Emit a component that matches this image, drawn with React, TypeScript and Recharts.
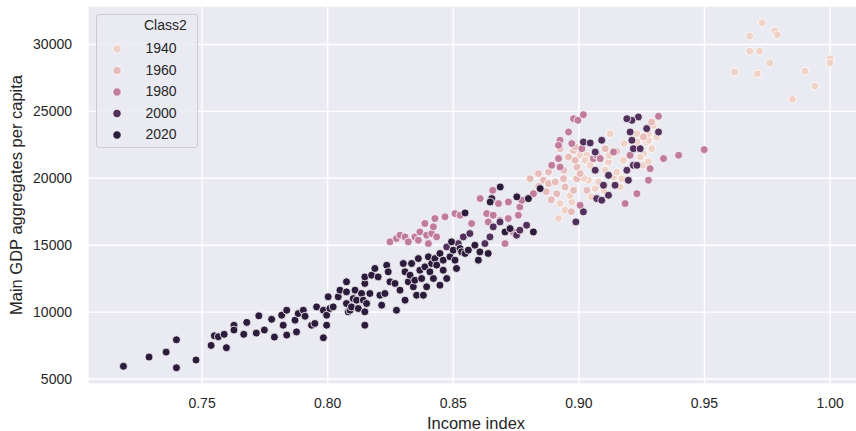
import React from 'react';
import { ScatterChart, Scatter, XAxis, YAxis, CartesianGrid, Legend, Label } from 'recharts';

type Pt = [number, number];

const xTicks = [0.75, 0.8, 0.85, 0.9, 0.95, 1.0];
const yTicks = [5000, 10000, 15000, 20000, 25000, 30000];
const classLabels = ['1940', '1960', '1980', '2000', '2020'];
const classColors = ['#efd3c8', '#e6bcba', '#bf7d9b', '#52305c', '#2d1b3c'];

const s1940: Pt[] = [
  [0.973, 31620], [0.968, 30620], [0.978, 31000], [0.979, 30720], [0.968, 29500], [0.972, 29500],
  [0.976, 28610], [0.962, 27940], [0.971, 27810], [0.990, 28010], [0.994, 26890], [0.985, 25900],
  [1.0, 28930], [1.0, 28610],
  [0.8925, 18110], [0.8945, 17610], [0.8919, 16990], [0.8972, 18230],
  [0.9005, 21720], [0.9032, 21720], [0.9025, 21340], [0.9058, 21340], [0.9038, 19850], [0.9065, 19230],
  [0.9045, 20970], [0.9105, 20600], [0.9138, 20100], [0.9118, 21220], [0.9125, 23330], [0.9078, 19730],
  [0.9164, 19350], [0.9171, 19970], [0.9257, 20970], [0.9277, 21220], [0.9151, 20470], [0.9178, 21340],
  [0.9231, 22710], [0.9257, 21840], [0.9244, 21590], [0.927, 22710], [0.929, 22210], [0.9297, 23960],
  [0.931, 23090], [0.9277, 22840], [0.9231, 23330], [0.9277, 23330],
  [0.8965, 18700], [0.9050, 18600], [0.9100, 19100], [0.9020, 20000], [0.9120, 21700], [0.9180, 22600],
];

const s1960: Pt[] = [
  [0.8806, 19970], [0.8839, 20350], [0.8879, 20470], [0.8959, 21590], [0.8925, 22210], [0.8859, 19850],
  [0.8879, 19600], [0.8906, 19730], [0.8939, 19970], [0.8945, 19350], [0.8912, 18850], [0.8979, 19100],
  [0.8992, 19970], [0.8992, 20840], [0.8985, 21340], [0.8979, 22090], [0.8985, 22340],
  [0.9005, 20350], [0.9032, 19100], [0.9105, 22210], [0.9257, 23090], [0.929, 24200],
  [0.8870, 19000], [0.8890, 18400], [0.8940, 20600], [0.8840, 19400], [0.8970, 17500], [0.9150, 22000],
];

const s1980: Pt[] = [
  [0.8248, 15250], [0.8274, 15500], [0.8288, 15750], [0.8308, 15620], [0.8321, 15250], [0.8347, 15620],
  [0.8361, 15370], [0.8367, 15990], [0.8387, 16620], [0.8394, 15750], [0.8401, 15120], [0.8414, 15870],
  [0.8421, 16370], [0.8427, 16990], [0.8434, 15620], [0.8467, 17120], [0.8507, 17360], [0.8527, 17240],
  [0.8573, 16620], [0.8633, 17360], [0.8639, 16740], [0.8659, 17240], [0.8686, 16870], [0.8719, 16990],
  [0.8706, 15120], [0.8739, 15990], [0.8759, 17240], [0.8765, 17860],
  [0.8607, 18480], [0.8657, 19100], [0.868, 18110], [0.872, 18230], [0.8773, 18360], [0.8819, 18850],
  [0.8892, 20970], [0.8925, 20840], [0.8919, 21470], [0.8925, 22840], [0.8959, 23460], [0.8979, 24450],
  [0.8996, 24330], [0.9018, 24750], [0.8919, 22460], [0.8972, 22590], [0.9012, 22210], [0.9058, 21470],
  [0.9071, 21720], [0.9085, 21470], [0.9005, 17980], [0.9138, 21960], [0.9184, 18110], [0.9231, 18850],
  [0.9284, 20720], [0.9277, 19850], [0.9204, 21720], [0.9317, 24630], [0.9337, 21470], [0.9397, 21720],
  [0.9499, 22140],
];

const s2000: Pt[] = [
  [0.9018, 22710], [0.9045, 22640], [0.9065, 21960], [0.9091, 22840], [0.9065, 20600], [0.9071, 18480],
  [0.9091, 18360], [0.9118, 18730], [0.9018, 17490], [0.8988, 16740], [0.9118, 20220], [0.9098, 19480],
  [0.9144, 19480], [0.9191, 20600], [0.9217, 20970], [0.9231, 20970], [0.9197, 19850], [0.9217, 22210],
  [0.9211, 22840], [0.9244, 22210], [0.927, 23710], [0.9317, 23460], [0.9237, 24580], [0.9211, 24330],
  [0.9191, 24450], [0.9204, 23460],
  [0.8474, 14870], [0.852, 15120], [0.854, 15620], [0.8566, 15870], [0.8626, 15120], [0.8646, 15620],
  [0.8659, 16370], [0.8686, 16740], [0.8752, 15750], [0.8792, 16490], [0.8765, 16120],
];

const s2020: Pt[] = [
  [0.7187, 5950], [0.7289, 6640], [0.7357, 7010], [0.7398, 7930], [0.7398, 5840], [0.7476, 6420],
  [0.7536, 7510], [0.7549, 8230], [0.7565, 8160], [0.7588, 8340], [0.7597, 7340], [0.7627, 9010],
  [0.7627, 8660], [0.7666, 8340], [0.7678, 9230], [0.7716, 8430], [0.7726, 9720], [0.7748, 8660],
  [0.7777, 9460], [0.7788, 8130],
  [0.7817, 9770], [0.7823, 9020], [0.7837, 10140], [0.7837, 8280], [0.787, 9400], [0.7876, 8520],
  [0.7883, 9890], [0.7903, 10140], [0.791, 9690], [0.7936, 9020], [0.7949, 9150], [0.7956, 10390],
  [0.7983, 10140], [0.7983, 8080], [0.7996, 9020], [0.7996, 9770], [0.8002, 11140], [0.8009, 10270],
  [0.8022, 10390], [0.8042, 11140], [0.8049, 11640], [0.8075, 12260], [0.8075, 11510], [0.8075, 10640],
  [0.8082, 10020], [0.8089, 10140], [0.8095, 10390], [0.8102, 11010], [0.8109, 11640], [0.8115, 10890],
  [0.8122, 10270], [0.8135, 11390], [0.8142, 10890], [0.8148, 10020], [0.8148, 9020], [0.8155, 10640],
  [0.8168, 11390], [0.8148, 12140], [0.8148, 12630], [0.8175, 12760], [0.8188, 13260], [0.8201, 12630],
  [0.8208, 11260], [0.8215, 10520], [0.8228, 11390], [0.8235, 13500], [0.8241, 13010], [0.8248, 12260],
  [0.8268, 12140], [0.8274, 10140], [0.8288, 11640], [0.8301, 13630], [0.8308, 10890], [0.8308, 13010],
  [0.8321, 12260], [0.8328, 12760], [0.8334, 13630], [0.8341, 11890], [0.8347, 12380], [0.8354, 11260],
  [0.8361, 14000], [0.8367, 13130], [0.8374, 12510], [0.8381, 11260], [0.8387, 13380], [0.8394, 11890],
  [0.8401, 14130], [0.8407, 13010], [0.8414, 13630], [0.8421, 12510], [0.8427, 14000], [0.8434, 13510],
  [0.8447, 14380], [0.8447, 12010], [0.846, 13130], [0.846, 13880], [0.8474, 12510], [0.8487, 14130],
  [0.8493, 15250], [0.85, 14630], [0.8507, 13880], [0.8513, 13260], [0.8527, 14750], [0.8533, 14500],
  [0.8547, 14380], [0.856, 14630], [0.8586, 15000], [0.86, 13880], [0.8606, 14500], [0.8639, 14380],
  [0.8706, 15990], [0.8726, 16240], [0.8819, 15990], [0.8547, 17410],
  [0.8687, 19350], [0.8653, 18480], [0.8647, 18230], [0.8753, 18610], [0.8799, 18480], [0.8846, 19230],
];

const seriesPoints: Pt[][] = [s1940, s1960, s1980, s2000, s2020];

const FONT = '"Liberation Sans", Arial, Helvetica, sans-serif';
const TEXT = '#262626';

const toRows = (pts: Pt[]) => pts.map(([x, y]) => ({ x, y }));

const makeDot = (color: string) => (props: any) => {
  if (props.cx == null || props.cy == null) return <g />;
  return <circle cx={props.cx} cy={props.cy} r={4} fill={color} stroke="#ffffff" strokeWidth={0.8} />;
};

const LegendBox = () => (
  <div
    style={{
      width: 102,
      height: 134,
      boxSizing: 'border-box',
      border: '1px solid #cccccc',
      borderRadius: 3,
      background: 'rgba(234,234,242,0.8)',
    }}
  >
    <svg width={100} height={132} style={{ display: 'block' }}>
      <text x={47} y={15} fontSize={14} fill={TEXT} fontFamily={FONT}>Class2</text>
      {classLabels.map((lab, i) => (
        <g key={lab}>
          <circle cx={20} cy={34 + i * 21.5} r={4.2} fill={classColors[i]} stroke="#ffffff" strokeWidth={0.8} />
          <text x={48.5} y={38 + i * 21.5} fontSize={14} fill={TEXT} fontFamily={FONT}>{lab}</text>
        </g>
      ))}
    </svg>
  </div>
);

export default function App() {
  return (
    <div
      style={{
        position: 'absolute',
        left: 0,
        top: 0,
        width: 856,
        height: 431,
        overflow: 'hidden',
        background: '#ffffff',
        fontFamily: FONT,
      }}
    >
      <ScatterChart width={864} height={431} margin={{ top: 6, right: 0, bottom: 0, left: 0 }}>
        <CartesianGrid fill="#eaeaf2" fillOpacity={1} stroke="#ffffff" strokeWidth={1.4} />
        <XAxis
          type="number"
          dataKey="x"
          domain={[0.7046, 1.0135]}
          ticks={xTicks}
          interval={0}
          allowDataOverflow
          tickFormatter={(v: number) => v.toFixed(2)}
          height={47}
          axisLine={false}
          tickLine={false}
          tickSize={0}
          tickMargin={14}
          tick={{ fontSize: 14, fill: TEXT, fontFamily: FONT }}
        >
          <Label
            content={(p: any) => {
              const vb = p.viewBox || { x: 88, width: 776 };
              return (
                <text x={vb.x + vb.width / 2} y={429} textAnchor="middle" fontSize={16.5} fill={TEXT} fontFamily={FONT}>
                  Income index
                </text>
              );
            }}
          />
        </XAxis>
        <YAxis
          type="number"
          dataKey="y"
          domain={[4627, 32873]}
          ticks={yTicks}
          interval={0}
          allowDataOverflow
          width={88}
          axisLine={false}
          tickLine={false}
          tickSize={0}
          tickMargin={16}
          tick={{ fontSize: 14, fill: TEXT, fontFamily: FONT }}
        >
          <Label
            content={() => (
              <text x={22} y={195} transform="rotate(-90, 22, 195)" textAnchor="middle" fontSize={16.5} fill={TEXT} fontFamily={FONT}>
                Main GDP aggregates per capita
              </text>
            )}
          />
        </YAxis>
        <Legend
          layout="horizontal"
          verticalAlign="middle"
          align="center"
          wrapperStyle={{ left: 96, top: 14, width: 102, height: 134 }}
          content={() => <LegendBox />}
        />
        {seriesPoints.map((pts, i) => (
          <Scatter
            key={classLabels[i]}
            name={classLabels[i]}
            data={toRows(pts)}
            fill={classColors[i]}
            shape={makeDot(classColors[i])}
            isAnimationActive={false}
          />
        ))}
      </ScatterChart>
    </div>
  );
}
